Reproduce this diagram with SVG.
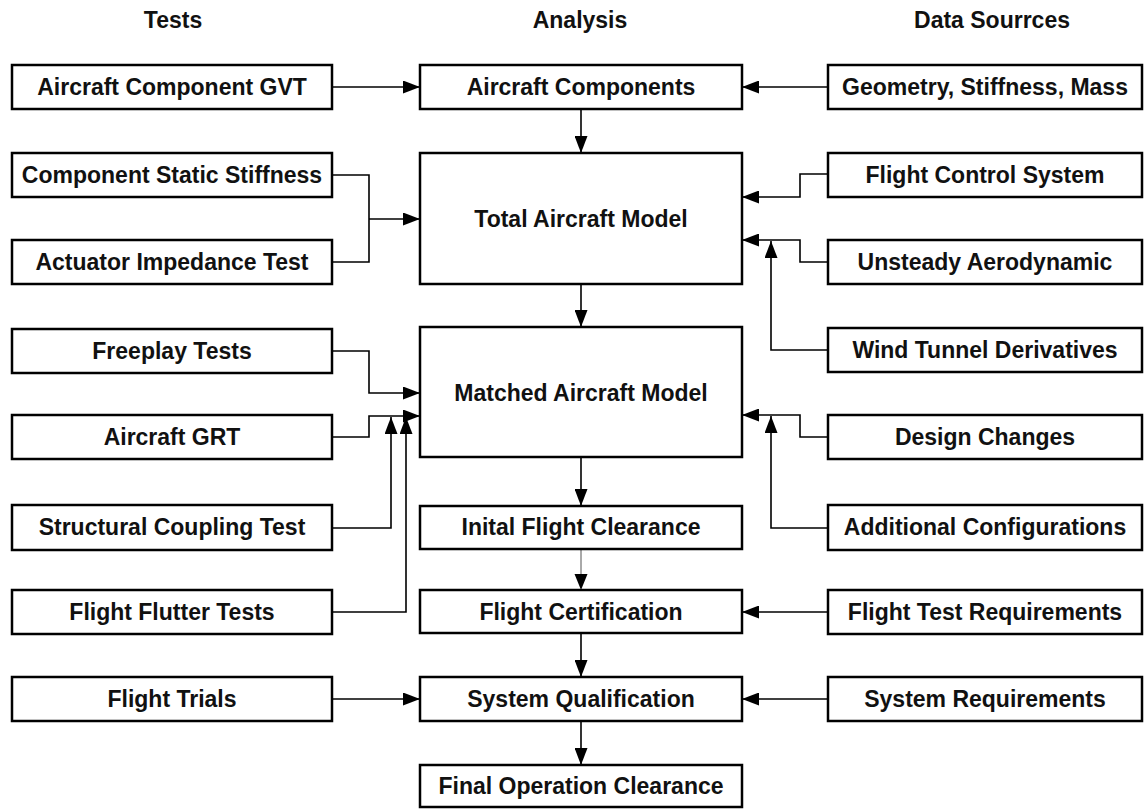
<svg xmlns="http://www.w3.org/2000/svg" width="1145" height="809" viewBox="0 0 1145 809">
<defs>
<marker id="ah" viewBox="0 0 17 13" refX="17" refY="6.5" markerWidth="17" markerHeight="13" markerUnits="userSpaceOnUse" orient="auto">
<path d="M0,0 L17,6.5 L0,13 Z" fill="#000"/>
</marker>
<style>
.b{fill:#fff;stroke:#000;stroke-width:2.5}
.t{font-family:"Liberation Sans",Arial,sans-serif;font-weight:bold;font-size:23px;fill:#111;text-anchor:middle}
.c{fill:none;stroke:#000;stroke-width:1.6}
.thin{fill:none;stroke:#555;stroke-width:1}
</style>
</defs>
<rect width="1145" height="809" fill="#fff"/>
<g id="headers">
<text class="t" x="173" y="28">Tests</text>
<text class="t" x="580" y="28">Analysis</text>
<text class="t" x="992" y="28">Data Sourrces</text>
</g>
<g id="connectors">
<path class="c" d="M332,87 H420" marker-end="url(#ah)"/>
<path class="c" d="M828,87 H742" marker-end="url(#ah)"/>
<path class="c" d="M581,109 V153" marker-end="url(#ah)"/>
<path class="c" d="M332,175 H369 V262 H332"/>
<path class="c" d="M369,219 H420" marker-end="url(#ah)"/>
<path class="c" d="M828,174 H800 V197 H742" marker-end="url(#ah)"/>
<path class="c" d="M828,262 H800 V240 H742" marker-end="url(#ah)"/>
<path class="c" d="M828,350 H771 V241" marker-end="url(#ah)"/>
<path class="c" d="M581,284 V327" marker-end="url(#ah)"/>
<path class="c" d="M332,351 H369 V393 H420" marker-end="url(#ah)"/>
<path class="c" d="M332,437 H369 V416 H420" marker-end="url(#ah)"/>
<path class="c" d="M332,528 H391 V417" marker-end="url(#ah)"/>
<path class="c" d="M332,612 H406 V417" marker-end="url(#ah)"/>
<path class="c" d="M828,437 H800 V415 H742" marker-end="url(#ah)"/>
<path class="c" d="M828,528 H771 V416" marker-end="url(#ah)"/>
<path class="c" d="M581,457 V506" marker-end="url(#ah)"/>
<path class="thin" d="M581,549 V575"/>
<path d="M574.5,574 L581,590 L587.5,574 Z" fill="#000"/>
<path class="c" d="M828,612 H742" marker-end="url(#ah)"/>
<path class="c" d="M581,633 V677" marker-end="url(#ah)"/>
<path class="c" d="M332,699 H420" marker-end="url(#ah)"/>
<path class="c" d="M828,699 H742" marker-end="url(#ah)"/>
<path class="c" d="M581,721 V765" marker-end="url(#ah)"/>
</g>
<g id="n_gvt"><rect class="b" x="12" y="65" width="320" height="44"/><text class="t" x="172" y="95">Aircraft Component GVT</text></g>
<g id="n_css"><rect class="b" x="12" y="153" width="320" height="44"/><text class="t" x="172" y="183">Component Static Stiffness</text></g>
<g id="n_ait"><rect class="b" x="12" y="240" width="320" height="44"/><text class="t" x="172" y="270">Actuator Impedance Test</text></g>
<g id="n_fpt"><rect class="b" x="12" y="329" width="320" height="44"/><text class="t" x="172" y="359">Freeplay Tests</text></g>
<g id="n_grt"><rect class="b" x="12" y="415" width="320" height="44"/><text class="t" x="172" y="445">Aircraft GRT</text></g>
<g id="n_sct"><rect class="b" x="12" y="505" width="320" height="45"/><text class="t" x="172" y="535">Structural Coupling Test</text></g>
<g id="n_fft"><rect class="b" x="12" y="590" width="320" height="44"/><text class="t" x="172" y="620">Flight Flutter Tests</text></g>
<g id="n_ftr"><rect class="b" x="12" y="677" width="320" height="44"/><text class="t" x="172" y="707">Flight Trials</text></g>
<g id="n_ac"><rect class="b" x="420" y="65" width="322" height="44"/><text class="t" x="581" y="95">Aircraft Components</text></g>
<g id="n_tam"><rect class="b" x="420" y="153" width="322" height="131"/><text class="t" x="581" y="227">Total Aircraft Model</text></g>
<g id="n_mam"><rect class="b" x="420" y="327" width="322" height="130"/><text class="t" x="581" y="401">Matched Aircraft Model</text></g>
<g id="n_ifc"><rect class="b" x="420" y="506" width="322" height="43"/><text class="t" x="581" y="535">Inital Flight Clearance</text></g>
<g id="n_fc"><rect class="b" x="420" y="590" width="322" height="43"/><text class="t" x="581" y="620">Flight Certification</text></g>
<g id="n_sq"><rect class="b" x="420" y="677" width="322" height="44"/><text class="t" x="581" y="707">System Qualification</text></g>
<g id="n_foc"><rect class="b" x="420" y="765" width="322" height="42"/><text class="t" x="581" y="794">Final Operation Clearance</text></g>
<g id="n_gsm"><rect class="b" x="828" y="65" width="314" height="44"/><text class="t" x="985" y="95">Geometry, Stiffness, Mass</text></g>
<g id="n_fcs"><rect class="b" x="828" y="153" width="314" height="44"/><text class="t" x="985" y="183">Flight Control System</text></g>
<g id="n_ua"><rect class="b" x="828" y="240" width="314" height="44"/><text class="t" x="985" y="270">Unsteady Aerodynamic</text></g>
<g id="n_wtd"><rect class="b" x="828" y="328" width="314" height="44"/><text class="t" x="985" y="358">Wind Tunnel Derivatives</text></g>
<g id="n_dc"><rect class="b" x="828" y="415" width="314" height="44"/><text class="t" x="985" y="445">Design Changes</text></g>
<g id="n_acf"><rect class="b" x="828" y="505" width="314" height="45"/><text class="t" x="985" y="535">Additional Configurations</text></g>
<g id="n_ftq"><rect class="b" x="828" y="590" width="314" height="44"/><text class="t" x="985" y="620">Flight Test Requirements</text></g>
<g id="n_sr"><rect class="b" x="828" y="677" width="314" height="44"/><text class="t" x="985" y="707">System Requirements</text></g>
</svg>
